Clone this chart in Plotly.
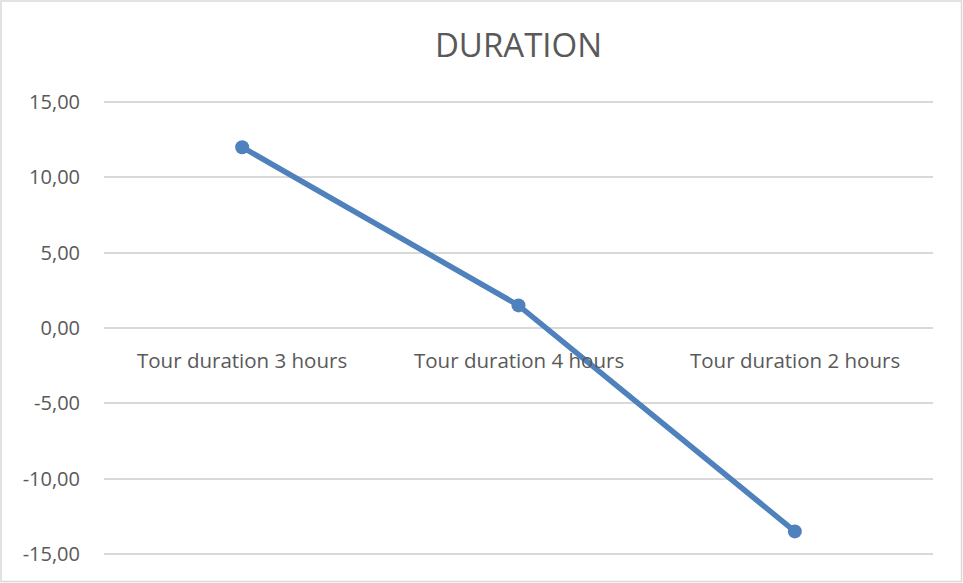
import plotly.graph_objects as go

categories = ["Tour duration 3 hours", "Tour duration 4 hours", "Tour duration 2 hours"]
values = [12.0, 1.5, -13.5]
y_ticks = [-15, -10, -5, 0, 5, 10, 15]
y_tick_labels = ["-15,00", "-10,00", "-5,00", "0,00", "5,00", "10,00", "15,00"]

W, H = 963, 583
L, R, T, B = 104, 30, 99, 26
FONT = "Open Sans"
GREY = "#595959"
BLUE = "#4f81bd"

fig = go.Figure()
fig.add_trace(go.Scatter(
    x=categories, y=values, mode="lines+markers",
    line=dict(color=BLUE, width=5.5),
    marker=dict(color=BLUE, size=14),
    showlegend=False, hoverinfo="skip",
))

for c in categories:
    fig.add_annotation(x=c, y=0, xref="x", yref="y", text=c, showarrow=False,
                       yanchor="top", yshift=-16,
                       font=dict(family=FONT, size=20.5, color=GREY))

pw, ph = W - L - R, H - T - B
fig.add_shape(type="rect", xref="paper", yref="paper",
              x0=-(L - 1) / pw, x1=1 + (R - 1.5) / pw,
              y0=-(B - 1.5) / ph, y1=1 + (T - 1) / ph,
              line=dict(color="#d9d9d9", width=1.5), layer="below")

fig.update_layout(
    width=W, height=H,
    margin=dict(l=L, r=R, t=T, b=B, pad=0),
    paper_bgcolor="white", plot_bgcolor="white",
    title=dict(text="DURATION", x=0.5, xref="paper", xanchor="center",
               y=1 - 45.5 / H, yanchor="middle",
               font=dict(family=FONT, size=33, color=GREY)),
    xaxis=dict(type="category", range=[-0.5, 2.5], showticklabels=False,
               showgrid=False, zeroline=False, showline=False, fixedrange=True),
    yaxis=dict(range=[-15.2, 15.2], tickvals=y_ticks, ticktext=y_tick_labels,
               showgrid=True, gridcolor="#d9d9d9", gridwidth=1.5,
               zeroline=False, showline=False, ticks="", ticklabelstandoff=23,
               tickfont=dict(family=FONT, size=20, color=GREY)),
)

fig.write_html("out.html", config={"displayModeBar": False},
               post_script="document.body.style.margin='0';")
